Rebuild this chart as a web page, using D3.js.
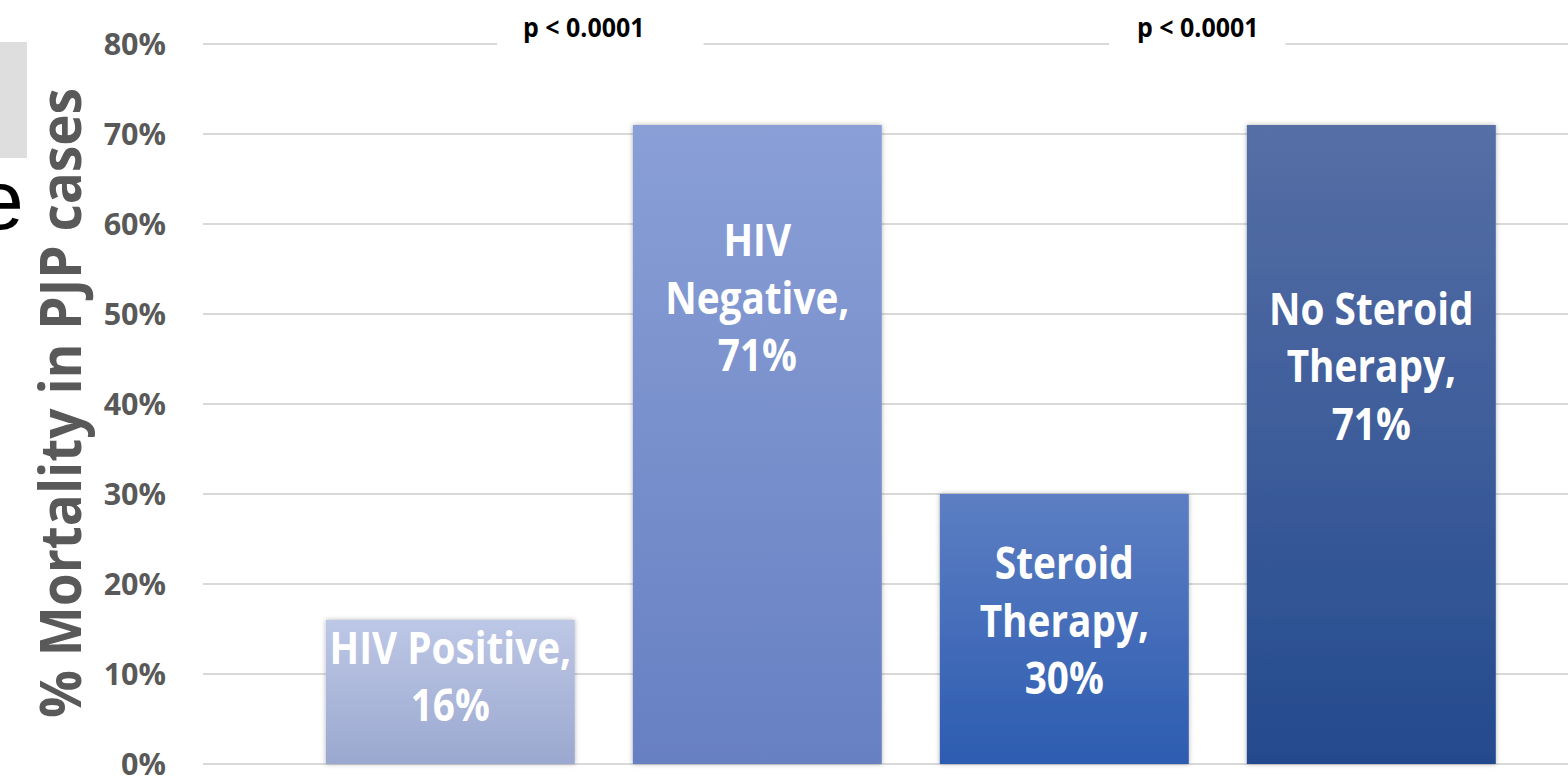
<!DOCTYPE html>
<html>
<head>
<meta charset="utf-8">
<script src="https://cdn.jsdelivr.net/npm/d3@7"></script>
<style>
  html, body { margin: 0; padding: 0; background: #ffffff; }
  svg { display: block; }
</style>
</head>
<body>
<svg id="chart" width="1568" height="780"></svg>
<script>
// ---------- data ----------
const categories = ["HIV Positive", "HIV Negative", "Steroid Therapy", "No Steroid Therapy"];
const mortality = [16, 71, 30, 71];
const labelLines = [
  ["HIV Positive,", "16%"],
  ["HIV", "Negative,", "71%"],
  ["Steroid", "Therapy,", "30%"],
  ["No Steroid", "Therapy,", "71%"]
];
const yTicks = [0, 10, 20, 30, 40, 50, 60, 70, 80];
const comparisons = [
  { pair: [0, 1], text: "p < 0.0001" },
  { pair: [2, 3], text: "p < 0.0001" }
];
const yTitle = "% Mortality in PJP cases";

// ---------- layout / style ----------
const barTop = ["#bdc7e6", "#8a9fd6", "#5d7ec3", "#566fa6"];
const barBottom = ["#9ba8cf", "#6680c2", "#2c5cb0", "#244a8e"];
const labelMidPct = [9.7, 51.8, 15.9, 44.2];
const pBoxPad = [[26, 59], [28, 27]];
const FONT = "'Open Sans', 'Noto Sans', sans-serif";
const SX = 0.88; // horizontal condensing to mimic Calibri

const svg = d3.select("#chart");
const defs = svg.append("defs");

const y = d3.scaleLinear().domain([0, 80]).range([764, 44]);
const x = d3.scaleBand().domain(categories)
  .range([203, 1618.6]).paddingInner(0.189).paddingOuter(0.4);

// slide fragments at left
svg.append("rect").attr("x", 0).attr("y", 42).attr("width", 27).attr("height", 116).attr("fill", "#dedede");
svg.append("text").attr("x", -23).attr("y", 229)
  .attr("font-family", "'Liberation Sans', Arial, sans-serif")
  .attr("font-size", 84).attr("fill", "#000").text("e");

// gridlines
svg.append("g").selectAll("line").data(yTicks).join("line")
  .attr("x1", 203).attr("x2", 1568)
  .attr("y1", d => y(d)).attr("y2", d => y(d))
  .attr("stroke", "#d9d9d9").attr("stroke-width", 2);

// y axis (tick labels only)
const yAxis = d3.axisLeft(y).tickValues(yTicks).tickFormat(d => d + "%").tickSize(0).tickPadding(0);
const ga = svg.append("g").attr("transform", "translate(166,0)").call(yAxis);
ga.select(".domain").remove();
ga.selectAll(".tick text")
  .attr("x", 0)
  .attr("font-family", FONT).attr("font-weight", 700).attr("font-size", 30.5)
  .attr("fill", "#595959").attr("dy", "0.34em");

// y title
svg.append("text")
  .attr("transform", `translate(81,403) rotate(-90)`)
  .attr("text-anchor", "middle")
  .attr("font-family", FONT).attr("font-weight", 700).attr("font-size", 58)
  .attr("fill", "#595959")
  .attr("textLength", 630).attr("lengthAdjust", "spacingAndGlyphs")
  .text(yTitle);

// gradients & shadow
categories.forEach((c, i) => {
  const g = defs.append("linearGradient").attr("id", "grad" + i)
    .attr("x1", 0).attr("y1", 0).attr("x2", 0).attr("y2", 1);
  g.append("stop").attr("offset", "0%").attr("stop-color", barTop[i]);
  g.append("stop").attr("offset", "100%").attr("stop-color", barBottom[i]);
});
const f = defs.append("filter").attr("id", "shadow")
  .attr("x", "-10%").attr("y", "-10%").attr("width", "120%").attr("height", "120%");
f.append("feDropShadow").attr("dx", 0).attr("dy", 0).attr("stdDeviation", 2.5)
  .attr("flood-color", "#000").attr("flood-opacity", 0.3);

// bars
svg.append("g").selectAll("rect").data(categories).join("rect")
  .attr("x", d => x(d)).attr("width", x.bandwidth())
  .attr("y", (d, i) => y(mortality[i]))
  .attr("height", (d, i) => y(0) - y(mortality[i]))
  .attr("fill", (d, i) => `url(#grad${i})`)
  .attr("filter", "url(#shadow)");

// bar labels
const lineH = 57.5;
categories.forEach((c, i) => {
  const lines = labelLines[i];
  const cx = x(c) + x.bandwidth() / 2;
  const mid = y(labelMidPct[i]);
  const g = svg.append("g").attr("transform", `translate(${cx},${mid}) scale(${SX},1)`);
  lines.forEach((ln, k) => {
    g.append("text")
      .attr("x", 0)
      .attr("y", (k - (lines.length - 1) / 2) * lineH)
      .attr("dy", "0.36em")
      .attr("text-anchor", "middle")
      .attr("font-family", FONT).attr("font-weight", 700).attr("font-size", 44)
      .attr("fill", "#ffffff")
      .text(ln);
  });
});

// p-value annotations
comparisons.forEach((cmp, j) => {
  const a = categories[cmp.pair[0]], b = categories[cmp.pair[1]];
  const mid = (x(a) + x.bandwidth() / 2 + x(b) + x.bandwidth() / 2) / 2 - 20;
  const g = svg.append("g");
  const bg = g.append("rect").attr("fill", "#ffffff");
  const t = g.append("text")
    .attr("transform", `translate(${mid},37) scale(0.96,1)`)
    .attr("text-anchor", "middle")
    .attr("font-family", FONT).attr("font-weight", 700).attr("font-size", 26)
    .attr("fill", "#000").text(cmp.text);
  const w = t.node().getComputedTextLength() * 0.96;
  bg.attr("x", mid - w / 2 - pBoxPad[j][0]).attr("y", 36)
    .attr("width", w + pBoxPad[j][0] + pBoxPad[j][1]).attr("height", 16);
});
</script>
</body>
</html>
